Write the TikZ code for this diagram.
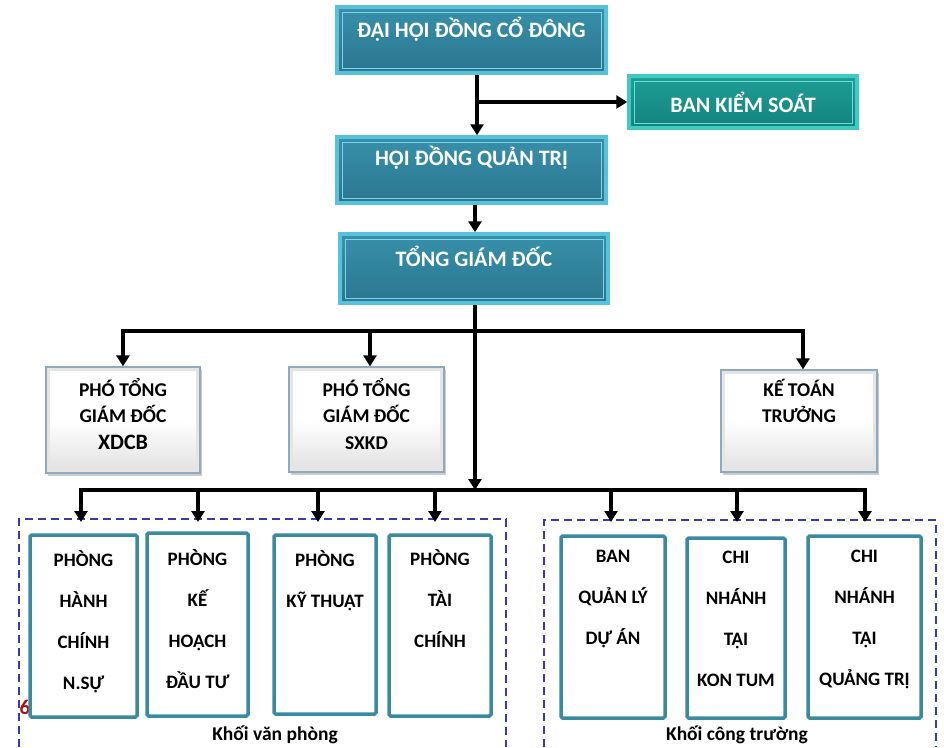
\documentclass[tikz,border=0pt]{standalone}
\usepackage{fontspec}
\setmainfont{Carlito}
\usetikzlibrary{arrows.meta,shadows,calc}
\definecolor{topfillA}{HTML}{3890AA}
\definecolor{topfillB}{HTML}{2B7690}
\definecolor{topedge}{HTML}{58C2DA}
\definecolor{topin}{HTML}{7DD4E8}
\definecolor{bksA}{HTML}{1F9E96}
\definecolor{bksB}{HTML}{12837D}
\definecolor{bksedge}{HTML}{3FCBC2}
\definecolor{bksin}{HTML}{6ADDD5}
\definecolor{midedge}{HTML}{8FA9BF}
\definecolor{botedge}{HTML}{3A8B9F}
\definecolor{grpcol}{HTML}{3A3AAA}
\definecolor{redsix}{HTML}{B01010}
\begin{document}
\begin{tikzpicture}[x=1pt,y=-1pt,
  topbox/.style={rectangle, draw=topedge, line width=3.5pt, top color=topfillA, bottom color=topfillB,
    minimum width=#1, inner sep=0pt,
    path picture={\draw[topin, line width=1pt] ([shift={(5pt,-5pt)}]path picture bounding box.north west) rectangle ([shift={(-5pt,5pt)}]path picture bounding box.south east);}},
  bksbox/.style={rectangle, draw=bksedge, line width=3.5pt, top color=bksA, bottom color=bksB,
    inner sep=0pt,
    path picture={\draw[bksin, line width=1pt] ([shift={(5pt,-5pt)}]path picture bounding box.north west) rectangle ([shift={(-5pt,5pt)}]path picture bounding box.south east);}},
  midbox/.style={rectangle, draw=midedge, line width=1.3pt, top color=white, bottom color=black!12, middle color=white,
    inner sep=0pt, drop shadow={shadow xshift=1.5pt, shadow yshift=-2.5pt, opacity=0.4},
    path picture={\draw[black!10, line width=4pt] ([shift={(2pt,-2pt)}]path picture bounding box.north west) rectangle ([shift={(-2pt,2pt)}]path picture bounding box.south east);}},
  botbox/.style={rectangle, draw=botedge, line width=3.5pt, fill=white, rounded corners=1.5pt, inner sep=0pt},
  titletxt/.style={font=\fontsize{22}{26}\selectfont\bfseries, text=white, inner sep=0pt},
  midtxt/.style={font=\fontsize{19.5}{26.5}\selectfont\bfseries, align=center, inner sep=0pt, anchor=north},
  bottxt/.style={font=\fontsize{19}{41}\selectfont\bfseries, align=center, inner sep=0pt, anchor=north},
  grptxt/.style={font=\fontsize{19.5}{22}\selectfont\bfseries, inner sep=0pt},
  conn/.style={line width=3.2pt, black},
  arr/.style={conn, -{Triangle[width=13pt,length=11pt]}},
  grp/.style={draw=grpcol, line width=1.4pt, dash pattern=on 8pt off 5pt}
]
\useasboundingbox (0,0) rectangle (944,747);

% top boxes
\node[topbox=269pt, minimum height=66pt] (dhcd) at (471.5,40) {};
\node[titletxt] (dhcdt) at (471.5,29) {ĐẠI HỘI ĐỒNG CỔ ĐÔNG};
\node[bksbox, minimum width=228pt, minimum height=52pt] (bks) at (743,102) {};
\node[titletxt] (bkst) at (bks) {BAN KIỂM SOÁT};
\node[topbox=269pt, minimum height=66pt] (hdqt) at (471.5,170) {};
\node[titletxt] (hdqtt) at (471.5,158) {HỘI ĐỒNG QUẢN TRỊ};
\node[topbox=268pt, minimum height=69pt] (tgd) at (474,268.5) {};
\node[titletxt] (tgdt) at (474,256) {TỔNG GIÁM ĐỐC};

% middle boxes
\node[midbox, minimum width=154pt, minimum height=106pt] (p1) at (123,420) {};
\node[midtxt] (p1t) at (123,378) {PHÓ TỔNG\\GIÁM ĐỐC\\{\fontsize{22}{26.5}\selectfont XDCB}};
\node[midbox, minimum width=155pt, minimum height=105pt] (p2) at (366.5,419.5) {};
\node[midtxt] (p2t) at (366.5,378) {PHÓ TỔNG\\GIÁM ĐỐC\\SXKD};
\node[midbox, minimum width=156pt, minimum height=102pt] (ktt) at (799,421) {};
\node[midtxt] (kttt) at (799,379) {KẾ TOÁN\\TRƯỞNG};

% group boxes
\draw[grp] (19,747) -- (19,519) -- (506,519) -- (506,747);
\draw[grp] (544,747) -- (544,520) -- (936,520) -- (936,747);
\coordinate (gtop) at (0,522);

% red six
\node[font=\fontsize{21}{24}\selectfont\bfseries, text=redsix, inner sep=0pt] (six) at (25,707) {6};

% bottom boxes
\node[botbox, minimum width=107pt, minimum height=182pt] (b1) at (83.5,626) {};
\node[bottxt] (b1t) at (83.5,550) {PHÒNG\\HÀNH\\CHÍNH\\N.SỰ};
\node[botbox, minimum width=101pt, minimum height=183pt] (b2) at (197.5,624.5) {};
\node[bottxt] (b2t) at (197.5,549) {PHÒNG\\KẾ\\HOẠCH\\ĐẦU TƯ};
\node[botbox, minimum width=102pt, minimum height=179pt] (b3) at (325,624.5) {};
\node[bottxt] (b3t) at (325,550) {PHÒNG\\KỸ THUẬT};
\node[botbox, minimum width=102pt, minimum height=181pt] (b4) at (440,625.5) {};
\node[bottxt] (b4t) at (440,549) {PHÒNG\\TÀI\\CHÍNH};
\node[botbox, minimum width=104pt, minimum height=182pt] (b5) at (613,627) {};
\node[bottxt] (b5t) at (613,550) {BAN\\QUẢN LÝ\\DỰ ÁN};
\node[botbox, minimum width=98pt, minimum height=180pt] (b6) at (736,628) {};
\node[bottxt] (b6t) at (736,551) {CHI\\NHÁNH\\TẠI\\KON TUM};
\node[botbox, minimum width=113pt, minimum height=182pt] (b7) at (864.5,627) {};
\node[bottxt] (b7t) at (864.5,550) {CHI\\NHÁNH\\TẠI\\QUẢNG TRỊ};

\node[grptxt] (kvp) at (275,735) {Khối văn phòng};
\node[grptxt] (kct) at (737,735) {Khối công trường};

% connectors
\coordinate (c1) at (477,0);
\draw[arr] (dhcd.south -| c1) -- (hdqt.north -| c1);
\draw[arr] (bks.west -| c1) -- (bks.west);
\coordinate (c2) at (475,0);
\draw[arr] (hdqt.south -| c2) -- (tgd.north -| c2);

\coordinate (j1) at (475,331);
\draw[conn] ([xshift=-1.6pt]p1.north |- j1) -- ([xshift=5.6pt]ktt.north |- j1);
\draw[arr] (p1.north |- j1) -- (p1.north);
\draw[arr] ([xshift=3.5pt]p2.north |- j1) -- ([xshift=3.5pt]p2.north);
\draw[arr] ([xshift=4pt]ktt.north |- j1) -- ([xshift=4pt]ktt.north);

\coordinate (j2) at (475,490);
\draw[arr] (tgd.south -| c2) -- (j2);
\coordinate (a1) at (81,490);
\coordinate (a2) at (198,490);
\coordinate (a3) at (318,490);
\coordinate (a4) at (435,490);
\coordinate (a5) at (611,490);
\coordinate (a6) at (737,490);
\coordinate (a7) at (865,490);
\draw[conn] ([xshift=-1.6pt]a1) -- ([xshift=1.6pt]a7);
\foreach \a in {a1,a2,a3,a4,a5,a6,a7}{
  \draw[arr] (\a) -- (\a |- gtop);
}
\end{tikzpicture}
\end{document}
